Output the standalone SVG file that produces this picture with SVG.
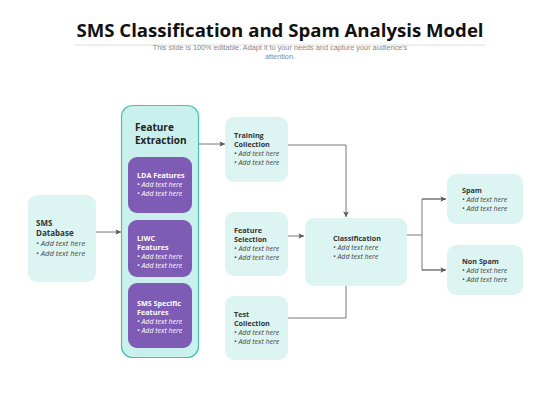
<svg xmlns="http://www.w3.org/2000/svg" width="560" height="420" viewBox="0 0 560 420">
<style>
.box{fill:#DDF5F2;}
.pur{fill:#7E5BB5;}
.lbl{font-family:"Open Sans","Noto Sans",sans-serif;font-size:7.2px;font-weight:bold;fill:#333;}
.itm{font-family:"Open Sans","Noto Sans",sans-serif;font-size:7px;font-style:italic;fill:#444;}
.lblw{font-family:"Open Sans","Noto Sans",sans-serif;font-size:7.2px;font-weight:bold;fill:#fff;}
.itmw{font-family:"Open Sans","Noto Sans",sans-serif;font-size:7px;font-style:italic;fill:#fff;}
.con{fill:none;stroke:#777;stroke-width:1;}
</style>
<defs>
<marker id="ah" viewBox="0 0 10 10" refX="9" refY="5" markerWidth="7" markerHeight="7" orient="auto" markerUnits="userSpaceOnUse">
<path d="M1,1 L9,5 L1,9 L3,5 Z" fill="#555"/>
</marker>
</defs>
<rect width="560" height="420" fill="#fff"/>
<g id="title">
<text x="280" y="37" text-anchor="middle" font-family="Open Sans, Noto Sans, sans-serif" font-size="18.6" font-weight="bold" fill="#111">SMS Classification and Spam Analysis Model</text>
<line x1="75" y1="45" x2="485" y2="45" stroke="#ddd" stroke-width="1"/>
<text x="280" y="50" text-anchor="middle" font-family="Liberation Sans, Arial, sans-serif" font-size="7.3" fill="#888">This slide is 100% editable. Adapt it to your needs and capture your audience's</text>
<text x="280" y="59" text-anchor="middle" font-family="Liberation Sans, Arial, sans-serif" font-size="7.3" fill="#888">attention.</text>
</g>
<g id="connectors">
<line class="con" x1="96" y1="232" x2="121" y2="232" marker-end="url(#ah)"/>
<line class="con" x1="199" y1="144" x2="225" y2="144" marker-end="url(#ah)"/>
<polyline class="con" points="288,145 346,145 346,217" marker-end="url(#ah)"/>
<line class="con" x1="288" y1="236" x2="304" y2="236" marker-end="url(#ah)"/>
<polyline class="con" points="288,318 346,318 346,286"/>
<polyline class="con" points="407,235 422,235"/>
<polyline class="con" points="446,199 422,199 422,270 446,270"/>
<line class="con" x1="422" y1="199" x2="446" y2="199" marker-end="url(#ah)"/>
<line class="con" x1="422" y1="270" x2="446" y2="270" marker-end="url(#ah)"/>
</g>
<g id="sms-database">
<rect class="box" x="28" y="195" width="68" height="87" rx="9"/>
<text class="lbl" x="36" y="226" font-size="8" style="font-size:8px">SMS</text>
<text class="lbl" x="36" y="236" style="font-size:8px">Database</text>
<text class="itm" x="36" y="246" style="font-size:7.6px">• Add text here</text>
<text class="itm" x="36" y="256" style="font-size:7.6px">• Add text here</text>
</g>
<g id="feature-extraction">
<rect x="121.5" y="105.5" width="77" height="252" rx="11" fill="#C9F0EC" stroke="#45C2B3" stroke-width="1.2"/>
<text x="135" y="131" font-family="Open Sans, Noto Sans, sans-serif" font-size="10" font-weight="bold" fill="#222">Feature</text>
<text x="135" y="144" font-family="Open Sans, Noto Sans, sans-serif" font-size="10" font-weight="bold" fill="#222">Extraction</text>
</g>
<g id="lda-features">
<rect class="pur" x="128" y="157" width="64" height="56" rx="9"/>
<text class="lblw" x="137" y="178">LDA Features</text>
<text class="itmw" x="137" y="187">• Add text here</text>
<text class="itmw" x="137" y="196">• Add text here</text>
</g>
<g id="liwc-features">
<rect class="pur" x="128" y="220" width="64" height="57" rx="9"/>
<text class="lblw" x="137" y="241">LIWC</text>
<text class="lblw" x="137" y="250">Features</text>
<text class="itmw" x="137" y="259">• Add text here</text>
<text class="itmw" x="137" y="268">• Add text here</text>
</g>
<g id="sms-specific-features">
<rect class="pur" x="128" y="283" width="64" height="65" rx="9"/>
<text class="lblw" x="137" y="306">SMS Specific</text>
<text class="lblw" x="137" y="315">Features</text>
<text class="itmw" x="137" y="324">• Add text here</text>
<text class="itmw" x="137" y="333">• Add text here</text>
</g>
<g id="training-collection">
<rect class="box" x="225" y="117" width="63" height="65" rx="9"/>
<text class="lbl" x="234" y="138">Training</text>
<text class="lbl" x="234" y="147">Collection</text>
<text class="itm" x="234" y="156">• Add text here</text>
<text class="itm" x="234" y="165">• Add text here</text>
</g>
<g id="feature-selection">
<rect class="box" x="225" y="212" width="63" height="64" rx="9"/>
<text class="lbl" x="234" y="233">Feature</text>
<text class="lbl" x="234" y="242">Selection</text>
<text class="itm" x="234" y="251">• Add text here</text>
<text class="itm" x="234" y="260">• Add text here</text>
</g>
<g id="classification">
<rect class="box" x="305" y="218" width="102" height="68" rx="9"/>
<text class="lbl" x="333" y="241">Classification</text>
<text class="itm" x="333" y="250">• Add text here</text>
<text class="itm" x="333" y="259">• Add text here</text>
</g>
<g id="test-collection">
<rect class="box" x="225" y="296" width="63" height="64" rx="9"/>
<text class="lbl" x="234" y="317">Test</text>
<text class="lbl" x="234" y="326">Collection</text>
<text class="itm" x="234" y="335">• Add text here</text>
<text class="itm" x="234" y="344">• Add text here</text>
</g>
<g id="spam">
<rect class="box" x="447" y="174" width="76" height="50" rx="9"/>
<text class="lbl" x="462" y="193">Spam</text>
<text class="itm" x="462" y="202">• Add text here</text>
<text class="itm" x="462" y="211">• Add text here</text>
</g>
<g id="non-spam">
<rect class="box" x="447" y="245" width="76" height="50" rx="9"/>
<text class="lbl" x="462" y="264">Non Spam</text>
<text class="itm" x="462" y="273">• Add text here</text>
<text class="itm" x="462" y="282">• Add text here</text>
</g>
</svg>
